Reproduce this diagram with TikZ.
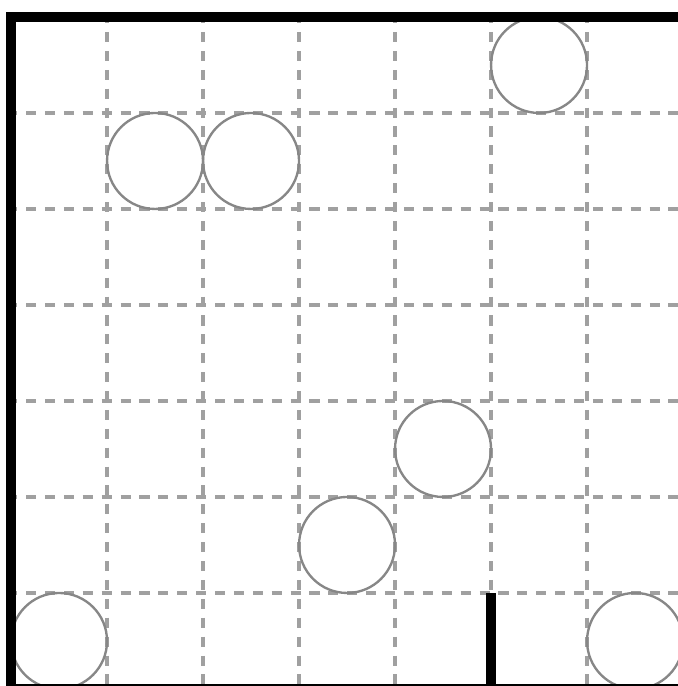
\documentclass[tikz,border=0pt]{standalone}
\usetikzlibrary{positioning}

\begin{document}
\begin{tikzpicture}[
    x=1cm, y=1cm,
    wall/.style={draw=black,line width=3pt},
    gridline/.style={draw=gridgray,line width=1.2pt,dash pattern=on 3pt off 2.6pt,dash phase=1.15pt},
    disc/.style={circle,draw=discgray,line width=0.7pt,minimum size=1cm,inner sep=0pt},
]
\definecolor{gridgray}{RGB}{160,160,160}
\definecolor{discgray}{RGB}{135,135,135}

\useasboundingbox (-0.115,0.031) rectangle (6.942,7.177);

% ================= dashed cell grid =================
\foreach \i in {1,...,6}{
  \draw[gridline] (\i,7) -- (\i,0);
  \draw[gridline] (0,\i) -- (7,\i);
}

% ================= round obstacles, one per cell =================
\foreach \cx/\cy/\n in {5.5/6.5/a, 1.5/5.5/b, 2.5/5.5/c, 4.5/2.5/d, 3.5/1.5/e, 0.5/0.5/f, 6.5/0.5/g}{
  \node[disc] (disc\n) at (\cx,\cy) {};
}

% ================= outer walls and the short inner wall =================
\draw[wall] (0,0) rectangle (7,7);
\coordinate (wallbot) at (5,0);
\coordinate (walltop) at (5,1);
\draw[wall] (wallbot) -- (walltop);

\end{tikzpicture}
\end{document}
